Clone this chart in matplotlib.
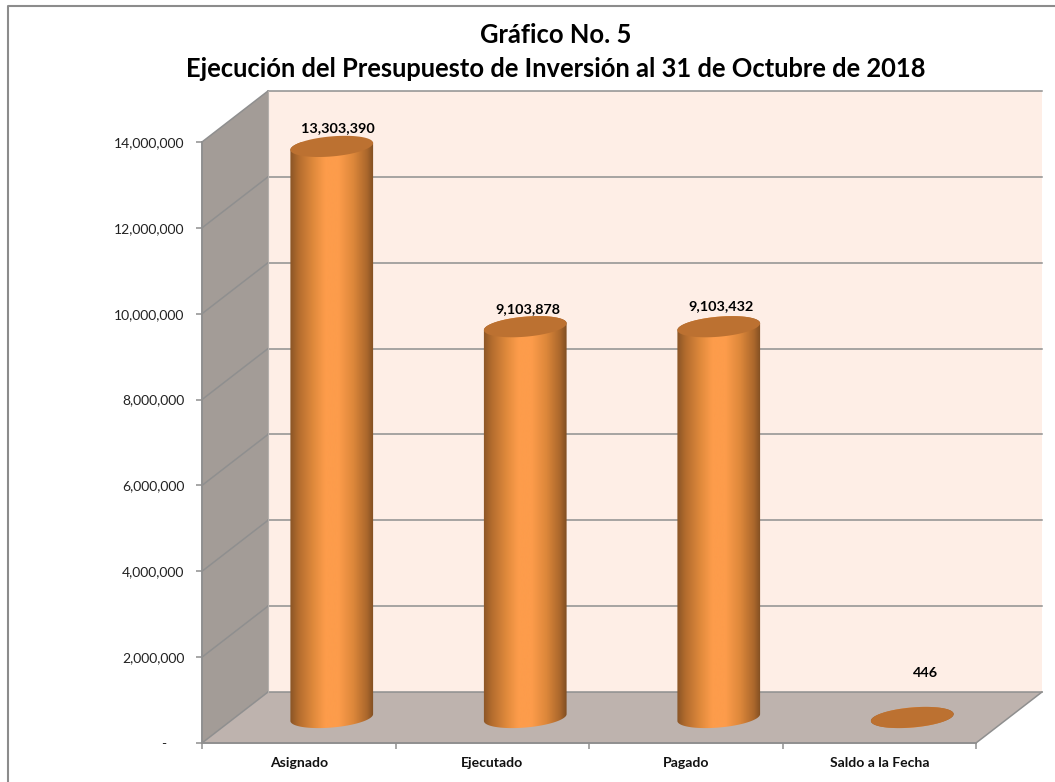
import numpy as np
import matplotlib
matplotlib.use('Agg')
import matplotlib.pyplot as plt
from matplotlib.colors import LinearSegmentedColormap
from matplotlib.lines import Line2D
from matplotlib.patches import Polygon, Rectangle

plt.rcParams['font.family'] = ['Lato', 'DejaVu Sans']

categories = ['Asignado', 'Ejecutado', 'Pagado', 'Saldo a la Fecha']
values = [13303390, 9103878, 9103432, 446]
value_labels = ['13,303,390', '9,103,878', '9,103,432', '446']
y_ticks = [0, 2000000, 4000000, 6000000, 8000000, 10000000, 12000000, 14000000]
y_tick_labels = ['-     ', '2,000,000', '4,000,000', '6,000,000', '8,000,000',
                 '10,000,000', '12,000,000', '14,000,000']
# label offset from the top of the cylinder, pixels
label_dx = [6, 3, 2, 13]
label_dy = [18, 18, 21, 44]

W, H = 1055, 782
fig = plt.figure(figsize=(W / 100, H / 100), dpi=100, facecolor='white')
ax = fig.add_axes([202 / W, (H - 743) / H, 774 / W, 601 / H])
ax.set_xlim(0, 4)
ax.set_ylim(0, 14000000)

# pixels to data
px_x = 4 / 774
px_y = 14000000 / 601
dep_x = 66 * px_x
dep_y = 51 * px_y
y_top = y_ticks[-1]

# walls and floor
side = '#a39c97'
ax.add_patch(Polygon([(0, 0), (dep_x, dep_y), (dep_x, y_top + dep_y), (0, y_top)],
                     fc=side, ec='none', clip_on=False, zorder=1))
ax.add_patch(Rectangle((dep_x, dep_y), 4, y_top, fc='#feeee6', ec='none', clip_on=False, zorder=1))
ax.add_patch(Polygon([(0, 0), (4, 0), (4 + dep_x, dep_y), (dep_x, dep_y)],
                     fc='#beb3ae', ec='none', clip_on=False, zorder=1))

grid = '#8f8f8f'
for t in y_ticks:
    ax.plot([0, dep_x], [t, t + dep_y], color=grid, lw=1.1, clip_on=False, zorder=2)
    ax.plot([dep_x, 4 + dep_x], [t + dep_y, t + dep_y], color=grid, lw=1.1, clip_on=False, zorder=2)
ax.plot([4, 4 + dep_x], [0, dep_y], color=grid, lw=1.1, clip_on=False, zorder=2)
ax.plot([dep_x, dep_x], [dep_y, y_top + dep_y], color='#b5b0ac', lw=0.8, clip_on=False, zorder=2)


def ellipse(cx, cy, t):
    # tilted ellipse, built in pixels because the data scales differ
    a, b, tilt = 41.5, 10.0, np.radians(5.0)
    ex = a * np.cos(t) * np.cos(tilt) - b * np.sin(t) * np.sin(tilt)
    ey = a * np.cos(t) * np.sin(tilt) + b * np.sin(t) * np.cos(tilt)
    return np.column_stack([cx + ex * px_x, cy + ey * px_y])


body_cmap = LinearSegmentedColormap.from_list('body', [
    (0.0, '#8a5526'), (0.1, '#b36c2e'), (0.28, '#e08a3c'), (0.42, '#fd9c4b'),
    (0.58, '#fd9c4b'), (0.76, '#dc873a'), (0.92, '#ab672c'), (1.0, '#804e22')])
gradient = np.linspace(0, 1, 200).reshape(1, -1)

for i, v in enumerate(values):
    cx = i + 0.5 + dep_x / 2
    base = dep_y / 2
    top = base + v
    low = ellipse(cx, base, np.linspace(np.pi, 2 * np.pi, 60))
    high = ellipse(cx, top, np.linspace(0, np.pi, 60))
    outline = Polygon(np.vstack([low, high]), fc='none', ec='none', transform=ax.transData)
    ax.add_patch(outline)
    outline.set_clip_on(False)
    im = ax.imshow(gradient, cmap=body_cmap, aspect='auto', zorder=3,
                   extent=(cx - 42 * px_x, cx + 42 * px_x, base - 12 * px_y, top + 12 * px_y))
    im.set_clip_path(outline)
    ax.add_patch(Polygon(ellipse(cx, top, np.linspace(0, 2 * np.pi, 120)), fc='#bc7131', ec='none',
                         clip_on=False, zorder=4))
    ax.text(cx + label_dx[i] * px_x, top + label_dy[i] * px_y, value_labels[i], ha='center', va='center',
            fontsize=10.4, fontweight='bold', color='black', zorder=5)

ax.set_xlim(0, 4)
ax.set_ylim(0, 14000000)
ax.patch.set_visible(False)
for s in ['top', 'right']:
    ax.spines[s].set_visible(False)
for s in ['left', 'bottom']:
    ax.spines[s].set_color(grid)
    ax.spines[s].set_linewidth(1.4)
    ax.spines[s].set_zorder(2.5)

ax.set_yticks(y_ticks)
ax.set_yticklabels(y_tick_labels, fontsize=10, color='#222222')
ax.tick_params(axis='y', length=4.5, width=1.1, color=grid, pad=8)
ax.set_xticks(range(5))
ax.set_xticklabels([])
ax.tick_params(axis='x', which='major', length=4.5, width=1.1, color=grid)
ax.set_xticks(np.arange(4) + 0.5, minor=True)
ax.set_xticklabels(categories, minor=True, fontsize=10.1, fontweight='bold', color='#111111')
ax.tick_params(axis='x', which='minor', length=0, pad=10)

fig.text(556 / W, 1 - 35 / H, 'Gráfico No. 5', ha='center', va='center', fontsize=18.4, fontweight='bold')
fig.text(556 / W, 1 - 69 / H, 'Ejecución del Presupuesto de Inversión al 31 de Octubre de 2018',
         ha='center', va='center', fontsize=18.4, fontweight='bold')

# chart frame, only top and left are inside the picture
fig.add_artist(Line2D([7.5 / W, 7.5 / W, 1], [0, 1 - 5.5 / H, 1 - 5.5 / H], color='#8c8c8c', lw=1.5))

fig.savefig('out.png', dpi=100)
